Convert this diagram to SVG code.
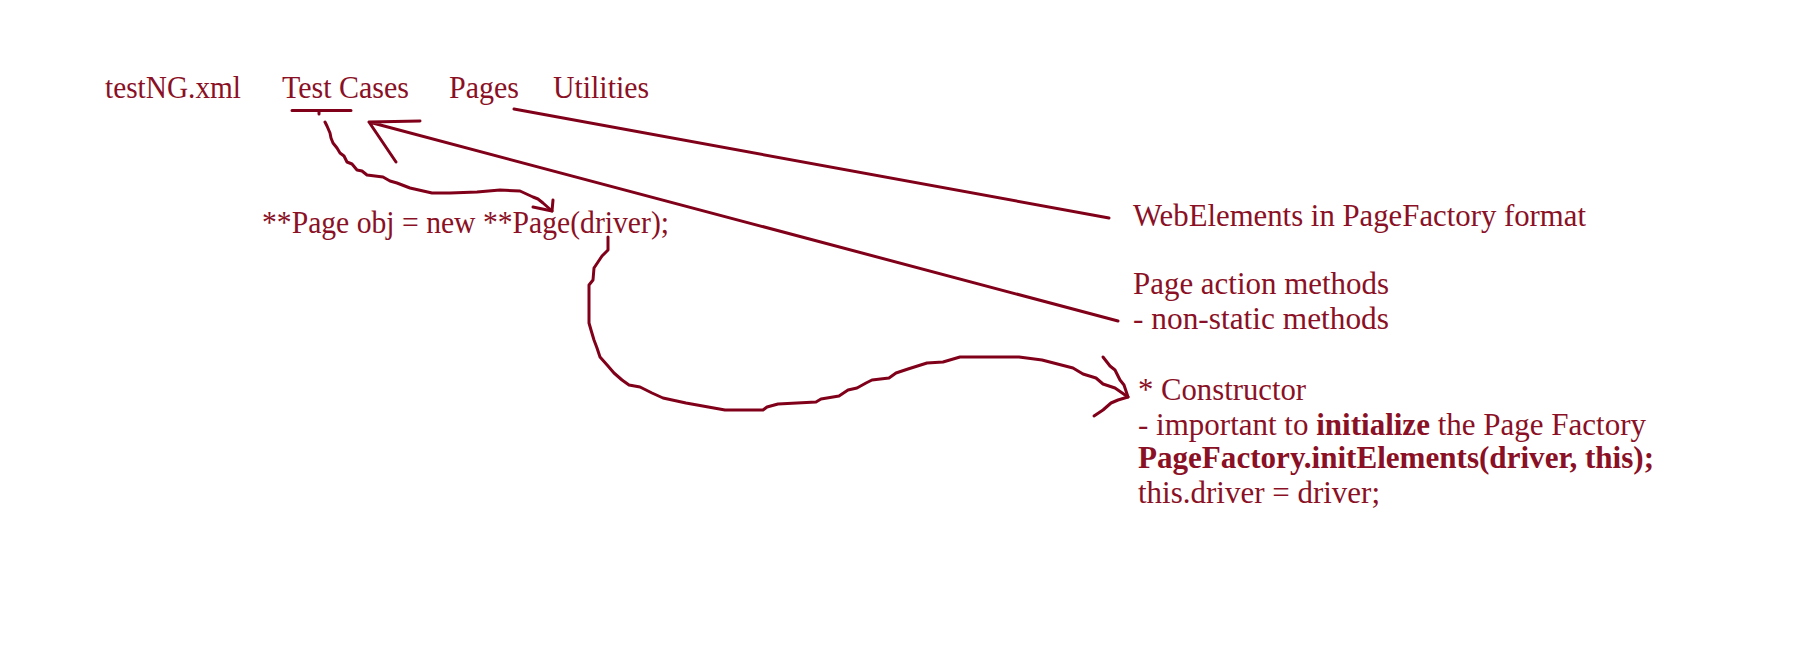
<svg xmlns="http://www.w3.org/2000/svg" width="1811" height="665" viewBox="0 0 1811 665">
<style>
text{font-family:"Liberation Serif","Times New Roman",serif;font-size:32px;fill:#8a1025}
.b{font-weight:bold}
.c{fill:none;stroke:#80001a;stroke-width:3;stroke-linecap:round;stroke-linejoin:round}
</style>
<rect width="1811" height="665" fill="#ffffff"/>
<g id="testng"><text x="105" y="98" textLength="136" lengthAdjust="spacingAndGlyphs">testNG.xml</text></g>
<g id="testcases"><text x="282" y="98" textLength="127" lengthAdjust="spacingAndGlyphs">Test Cases</text></g>
<g id="pages"><text x="449" y="98" textLength="70" lengthAdjust="spacingAndGlyphs">Pages</text></g>
<g id="utilities"><text x="553" y="98" textLength="96" lengthAdjust="spacingAndGlyphs">Utilities</text></g>
<g id="pageobj"><text x="262" y="233" textLength="407" lengthAdjust="spacingAndGlyphs">**Page obj = new **Page(driver);</text></g>
<g id="webelements"><text x="1133" y="226" textLength="453" lengthAdjust="spacingAndGlyphs">WebElements in PageFactory format</text></g>
<g id="actions">
<text x="1133" y="294" textLength="256" lengthAdjust="spacingAndGlyphs">Page action methods</text>
<text x="1133" y="329" textLength="256" lengthAdjust="spacingAndGlyphs">- non-static methods</text>
</g>
<g id="constructor">
<text x="1138" y="400" textLength="168" lengthAdjust="spacingAndGlyphs">* Constructor</text>
<text x="1138" y="435" textLength="508" lengthAdjust="spacingAndGlyphs">- important to <tspan class="b">initialize</tspan> the Page Factory</text>
<text x="1138" y="468" class="b" textLength="516" lengthAdjust="spacingAndGlyphs">PageFactory.initElements(driver, this);</text>
<text x="1138" y="503" textLength="242" lengthAdjust="spacingAndGlyphs">this.driver = driver;</text>
</g>
<g id="connectors">
<path class="c" d="M292 110.5 H351 M319 110.5 V114"/>
<path class="c" d="M420 121 L369 122 L396 162 M369 122 L1118 321"/>
<path class="c" d="M514 109 L1109 218"/>
<polyline class="c" points="325,122 327,126 330,133 331,138 333,143 337,148 340,153 344,156 347,162 352,164 357,170 362,171 367,175 383,177 390,181 397,183 410,188 432,193 450,193 477,192 500,190 520,191 533,197 538,199 543,203 552,211"/>
<path class="c" d="M533 207 L552 211 L553 200"/>
<polyline class="c" points="608,237 608,250 602,256 598,262 594,268 593,280 589,285 589,323 591,330 594,340 597,348 600,357 608,366 614,373 622,380 629,385 640,387 652,393 663,398 686,403 725,410 763,410 767,407 778,404 816,402 821,399 839,396 848,390 857,388 866,383 872,380 889,378 896,373 908,369 927,363 943,362 960,357 1019,357 1042,360 1073,368 1083,374 1096,378 1103,384 1115,388 1128,397"/>
<path class="c" d="M1103 357 L1110 366 L1115 370 L1120 380 L1124 385 L1128 397 L1118 400 L1111 403 L1103 410 L1094 416"/>
</g>
</svg>
